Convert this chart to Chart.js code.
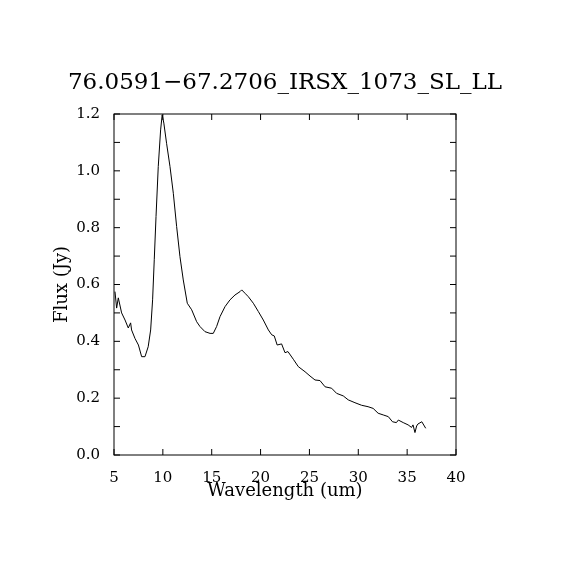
<!DOCTYPE html>
<html lang="en">
<head>
    <meta charset="UTF-8">
    <title>76.0591-67.2706_IRSX_1073_SL_LL</title>
    <script src="https://cdn.jsdelivr.net/npm/chart.js"></script>
    <style>
        body { margin: 0; background: #ffffff; }
        #wrap { width: 570px; height: 570px; }
    </style>
</head>
<body>
    <div id="wrap"><canvas id="spec"></canvas></div>
    <script>
        // spectrum
        const wavelength = [5.1, 5.27, 5.44, 5.78, 6.13, 6.46, 6.7, 6.8, 7.15, 7.5, 7.83, 8.17, 8.5, 8.75, 8.95,
            9.12, 9.3, 9.53, 9.77, 9.93, 10.1, 10.38, 10.73, 11.07, 11.41, 11.75, 12.09, 12.5, 12.95, 13.46,
            13.8, 14.31, 14.83, 15.16, 15.5, 15.85, 16.36, 16.87, 17.38, 17.9, 18.07, 18.41, 18.75, 19.26,
            19.77, 20.28, 20.8, 21.14, 21.4, 21.7, 22.15, 22.5, 22.8, 23.35, 23.86, 24.55, 25.06, 25.57,
            26.08, 26.6, 27.27, 27.78, 28.46, 28.97, 29.66, 30.34, 31.0, 31.52, 32.03, 32.55, 33.07, 33.5,
            33.9, 34.1, 34.6, 35.1, 35.45, 35.6, 35.8, 35.97, 36.1, 36.5, 36.9];
        const flux = [0.575, 0.517, 0.553, 0.50, 0.475, 0.447, 0.465, 0.44, 0.41, 0.387, 0.346, 0.346, 0.381, 0.44, 0.546,
            0.687, 0.839, 1.015, 1.144, 1.197, 1.168, 1.097, 1.015, 0.921, 0.804, 0.698, 0.616, 0.534, 0.511, 0.469,
            0.452, 0.434, 0.428, 0.428, 0.452, 0.487, 0.522, 0.546, 0.563, 0.575, 0.581, 0.569, 0.557, 0.534,
            0.505, 0.475, 0.44, 0.423, 0.419, 0.387, 0.391, 0.36, 0.364, 0.337, 0.311, 0.293, 0.278, 0.264,
            0.262, 0.24, 0.235, 0.217, 0.208, 0.194, 0.184, 0.175, 0.17, 0.164, 0.147, 0.141, 0.135, 0.117,
            0.114, 0.123, 0.114, 0.106, 0.097, 0.106, 0.079, 0.102, 0.109, 0.117, 0.094];
        const xTicks = [5, 10, 15, 20, 25, 30, 35, 40];
        const yLabels = ['0.0', '0.2', '0.4', '0.6', '0.8', '1.0', '1.2'];

        const points = wavelength.map(function(w, i) { return { x: w, y: flux[i] }; });

        // box round the plot with ticks pointing inwards on all four sides
        const frame = {
            id: 'frame',
            afterDatasetsDraw: function(chart) {
                const ctx = chart.ctx;
                const a = chart.chartArea;
                const sx = chart.scales.x, sy = chart.scales.y;
                ctx.save();
                ctx.strokeStyle = '#000';
                ctx.lineWidth = 1;
                ctx.strokeRect(a.left, a.top, a.right - a.left, a.bottom - a.top);
                ctx.beginPath();
                sx.ticks.forEach(function(t) {
                    const px = sx.getPixelForValue(t.value);
                    ctx.moveTo(px, a.bottom); ctx.lineTo(px, a.bottom - 6);
                    ctx.moveTo(px, a.top); ctx.lineTo(px, a.top + 6);
                });
                sy.ticks.forEach(function(t) {
                    const py = sy.getPixelForValue(t.value);
                    ctx.moveTo(a.left, py); ctx.lineTo(a.left + 6, py);
                    ctx.moveTo(a.right, py); ctx.lineTo(a.right - 6, py);
                });
                ctx.stroke();
                ctx.restore();
            }
        };

        const serif = 'DejaVu Serif';

        new Chart(document.getElementById('spec'), {
            type: 'scatter',
            data: {
                datasets: [{
                    data: points,
                    showLine: true,
                    borderColor: '#000',
                    borderWidth: 1,
                    pointRadius: 0,
                    tension: 0
                }]
            },
            options: {
                responsive: true,
                maintainAspectRatio: false,
                animation: false,
                layout: { padding: 0 },
                plugins: {
                    legend: { display: false },
                    tooltip: { enabled: false },
                    title: {
                        display: true,
                        text: '76.0591\u221267.2706_IRSX_1073_SL_LL',
                        color: '#000',
                        font: { family: serif, size: 23, weight: 'normal' },
                        padding: { top: 69.2, bottom: 17.2 }
                    }
                },
                scales: {
                    x: {
                        type: 'linear',
                        min: 5,
                        max: 40,
                        afterBuildTicks: function(scale) {
                            scale.ticks = xTicks.map(function(v) { return { value: v }; });
                        },
                        afterFit: function(scale) { scale.height = 115; },
                        grid: { display: false },
                        border: { display: false },
                        ticks: {
                            color: '#000',
                            padding: 6,
                            maxRotation: 0,
                            font: { family: serif, size: 15 },
                            callback: function(v) { return String(v); }
                        },
                        title: {
                            display: true,
                            text: 'Wavelength (um)',
                            color: '#000',
                            font: { family: serif, size: 18 },
                            padding: { top: 0, bottom: 68.2 }
                        }
                    },
                    y: {
                        min: 0,
                        max: 1.2,
                        ticks: {
                            stepSize: 0.1,
                            color: '#000',
                            padding: 6,
                            font: { family: serif, size: 15 },
                            callback: function(v) {
                                const k = Math.round(v * 10);
                                return k % 2 === 0 ? yLabels[k / 2] : '';
                            }
                        },
                        afterFit: function(scale) { scale.width = 114; },
                        grid: { display: false },
                        border: { display: false },
                        title: {
                            display: true,
                            text: 'Flux (Jy)',
                            color: '#000',
                            font: { family: serif, size: 18 },
                            padding: { top: 51.7, bottom: 0 }
                        }
                    },
                    // empty right-hand axis, only to keep the plot's right margin
                    yRight: {
                        position: 'right',
                        min: 0,
                        max: 1.2,
                        ticks: { display: false },
                        grid: { display: false },
                        border: { display: false },
                        afterFit: function(scale) { scale.width = 114; }
                    }
                }
            },
            plugins: [frame]
        });
    </script>
</body>
</html>
